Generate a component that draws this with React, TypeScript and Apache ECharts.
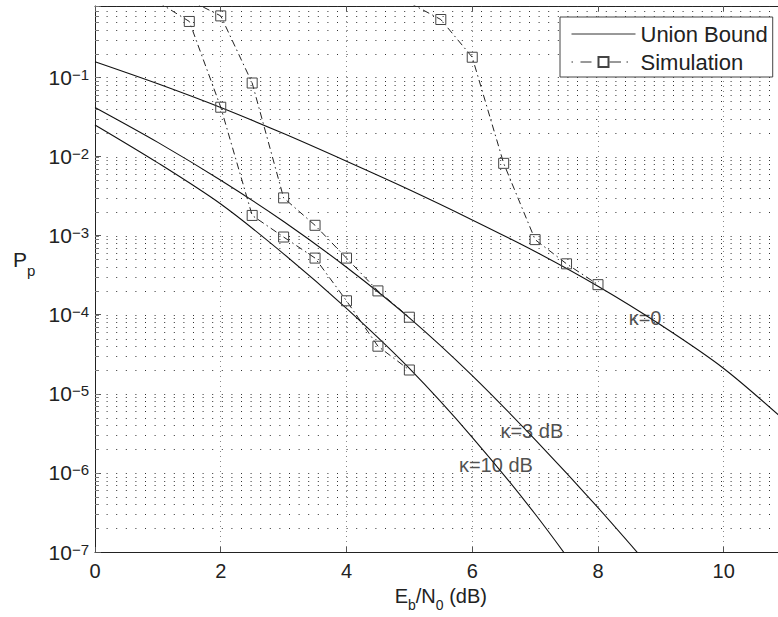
import React, { useEffect, useRef } from "react";
import * as echarts from "echarts";

const FONT = '"Liberation Sans", Arial, Helvetica, sans-serif';
const TEXT = "#222";

// x axis (Eb/N0, dB)
const xTicks = [0, 2, 4, 6, 8, 10];
const xMin = 0;
const xMax = 11;
// y axis (log10 of Pp)
const yDecades = [-7, -6, -5, -4, -3, -2, -1];
const yMinorMultipliers = [1, 2, 3, 4, 5, 6, 7, 8, 9];
const yTopValue = 0.8;

// Union bound curves
const ubK0Ebn0 = [0, 1, 2, 3, 4, 5, 6, 7, 8, 9, 10, 11];
const ubK0 = [0.158, 0.0832, 0.0417, 0.0195, 0.00871, 0.0038, 0.00158, 6.3e-4, 2.29e-4, 7.4e-5, 2.09e-5, 4.37e-6];
const ubK3Ebn0 = [0, 1, 2, 3, 4, 5, 6, 7, 8, 9];
const ubK3 = [0.0417, 0.0151, 0.00501, 0.00151, 3.98e-4, 9.12e-5, 1.7e-5, 2.63e-6, 3.63e-7, 4.47e-8];
const ubK10Ebn0 = [0, 1, 2, 3, 4, 5, 6, 7, 8];
const ubK10 = [0.0251, 0.00832, 0.00251, 5.89e-4, 1.2e-4, 2.09e-5, 2.82e-6, 3.02e-7, 2.51e-8];

// Simulation points
const simK10Ebn0 = [1, 1.5, 2, 2.5, 3, 3.5, 4, 4.5, 5];
const simK10 = [0.9, 0.51, 0.042, 1.8e-3, 9.6e-4, 5.2e-4, 1.5e-4, 4.0e-5, 2.0e-5];
const simK3Ebn0 = [1.5, 2, 2.5, 3, 3.5, 4, 4.5, 5];
const simK3 = [0.95, 0.6, 0.085, 3.0e-3, 1.35e-3, 5.2e-4, 2.0e-4, 9.3e-5];
const simK0Ebn0 = [5, 5.5, 6, 6.5, 7, 7.5, 8];
const simK0 = [0.88, 0.54, 0.18, 8.2e-3, 8.9e-4, 4.4e-4, 2.4e-4];

// curve annotations
const kappaTexts = ["κ=0", "κ=3 dB", "κ=10 dB"];
const kappaAnchorEbn0 = [8.48, 6.44, 5.78];
const kappaAnchorP = [9.0e-5, 3.4e-6, 1.26e-6];

const legendNames = ["Union Bound", "Simulation"];

const toPts = (xs: number[], ps: number[]) => xs.map((x, i) => [x, Math.log10(ps[i])]);

export default function App() {
  const ref = useRef<HTMLDivElement>(null);
  useEffect(() => {
    if (!ref.current) return;
    const chart = echarts.init(ref.current, null, { renderer: "svg" });
    const yMin = Math.min(...yDecades);
    const yMax = Math.log10(yTopValue);

    const gridValues: number[][] = [];
    yDecades.forEach((k) => {
      yMinorMultipliers.forEach((m) => {
        const v = k + Math.log10(m);
        if (v <= yMax + 1e-9 && v > yMin + 1e-9) gridValues.push([xMin, v, m === 1 ? 1 : 0]);
      });
    });

    const ubStyle = { color: "#111", width: 1.1 };
    const simLine = { color: "#222", width: 1, type: [7, 3.5, 1.5, 3.5] as any };
    const simItem = { color: "transparent", borderColor: "#444", borderWidth: 1 };

    const ubSeries = (data: number[][]) => ({
      type: "line",
      name: legendNames[0],
      data,
      symbol: "none",
      smooth: 0.3,
      lineStyle: ubStyle,
      itemStyle: { color: "#111" },
      silent: true,
      z: 3,
    });
    const simSeries = (data: number[][]) => ({
      type: "line",
      name: legendNames[1],
      data,
      symbol: "rect",
      symbolSize: 10,
      lineStyle: simLine,
      itemStyle: simItem,
      silent: true,
      z: 4,
    });

    chart.setOption({
      animation: false,
      backgroundColor: "#fff",
      textStyle: { fontFamily: FONT },
      grid: { left: 95, top: 6, right: -8.6, bottom: 65, outerBoundsMode: "none", containLabel: false },
      legend: {
        data: [
          { name: legendNames[0], itemStyle: { color: "transparent", borderWidth: 0, opacity: 0 }, lineStyle: { width: 1, color: "#333" } },
          { name: legendNames[1], lineStyle: { width: 1, color: "#333", type: [1.5, 7.5, 11, 18, 11.5, 5.5, 1.5, 20] } },
        ],
        orient: "vertical",
        left: 560,
        top: 17,
        padding: [6, 5, 4, 11],
        itemGap: 6,
        itemWidth: 64,
        itemHeight: 12.5,
        backgroundColor: "#fff",
        borderColor: "#444",
        borderWidth: 1,
        borderRadius: 0,
        selectedMode: false,
        textStyle: { fontSize: 22, color: TEXT, fontFamily: FONT, lineHeight: 22 },
      },
      xAxis: [
        {
          type: "value",
          min: xMin,
          max: xMax,
          interval: 2,
          position: "bottom",
          axisLine: { show: true, onZero: false, lineStyle: { color: "#222", width: 1 } },
          axisTick: { show: true, inside: true, length: 5, lineStyle: { color: "#555" } },
          axisLabel: {
            fontSize: 20,
            color: TEXT,
            fontFamily: FONT,
            margin: 9,
            formatter: (v: number) => (xTicks.includes(v) ? String(v) : ""),
          },
          splitLine: { show: true, lineStyle: { color: "#888", type: [1, 4], width: 1 } },
          name: "{n|E}{s|b}{n|/N}{s|0}{n| (dB)}",
          nameLocation: "middle",
          nameGap: 31,
          nameTextStyle: {
            rich: {
              n: { fontSize: 20, color: TEXT, fontFamily: FONT, verticalAlign: "top", lineHeight: 20 },
              s: { fontSize: 14, color: TEXT, fontFamily: FONT, verticalAlign: "top", lineHeight: 14, padding: [12, 0, 0, 0] },
            },
          },
        },
        {
          type: "value",
          min: xMin,
          max: xMax,
          interval: 2,
          position: "top",
          axisLine: { show: true, onZero: false, lineStyle: { color: "#222", width: 1 } },
          axisTick: { show: true, inside: true, length: 5, lineStyle: { color: "#555" } },
          axisLabel: { show: false },
          splitLine: { show: false },
        },
      ],
      yAxis: {
        type: "value",
        min: yMin,
        max: yMax,
        interval: 1,
        axisLine: { show: true, onZero: false, lineStyle: { color: "#222", width: 1 } },
        axisTick: { show: true, inside: true, length: 6, lineStyle: { color: "#555" } },
        splitLine: { show: false },
        axisLabel: {
          margin: 6,
          formatter: (v: number) => {
            const k = Math.round(v);
            if (Math.abs(v - k) > 1e-6) return "";
            return `{b|10}{sup|−${Math.abs(k)}}`;
          },
          rich: {
            b: { fontSize: 21, color: TEXT, fontFamily: FONT, lineHeight: 21 },
            sup: { fontSize: 15, color: TEXT, fontFamily: FONT, lineHeight: 15, padding: [0, 0, 18, 0], verticalAlign: "top" },
          },
        },
      },
      graphic: [
        {
          type: "text",
          left: 13,
          top: 249,
          style: {
            text: "{p|P}{s|p}",
            rich: {
              p: { fontSize: 21, fill: TEXT, fontFamily: FONT, lineHeight: 21, verticalAlign: "top" },
              s: { fontSize: 15, fill: TEXT, fontFamily: FONT, lineHeight: 15, verticalAlign: "top", padding: [14, 0, 0, 0] },
            },
          },
        },
      ],
      series: [
        {
          type: "custom",
          name: "grid",
          silent: true,
          z: 1,
          data: gridValues,
          renderItem: (params: any, api: any) => {
            const v = api.value(1);
            const p0 = api.coord([xMin, v]);
            const p1 = api.coord([xMax, v]);
            const y = Math.round(p0[1]) + 0.5;
            return {
              type: "group",
              children: [
                {
                  type: "line",
                  shape: { x1: p0[0] + 2, y1: y, x2: p1[0], y2: y },
                  style: { stroke: "#333", lineWidth: 1, lineDash: [1, 8.6] },
                },
                {
                  type: "line",
                  shape: { x1: p0[0], y1: y, x2: p0[0] + 4, y2: y },
                  style: { stroke: "#777", lineWidth: 1 },
                },
              ],
            };
          },
        },
        ubSeries(toPts(ubK0Ebn0, ubK0)),
        ubSeries(toPts(ubK3Ebn0, ubK3)),
        ubSeries(toPts(ubK10Ebn0, ubK10)),
        simSeries(toPts(simK10Ebn0, simK10)),
        simSeries(toPts(simK3Ebn0, simK3)),
        simSeries(toPts(simK0Ebn0, simK0)),
        {
          type: "scatter",
          name: "labels",
          silent: true,
          z: 5,
          symbolSize: 1,
          itemStyle: { color: "transparent" },
          data: kappaTexts.map((t, i) => ({ value: [kappaAnchorEbn0[i], Math.log10(kappaAnchorP[i])], name: t })),
          label: {
            show: true,
            position: "right",
            distance: 0,
            formatter: (p: any) => p.name,
            fontSize: 20,
            color: TEXT,
            fontFamily: FONT,
          },
        },
      ],
    });
    return () => chart.dispose();
  }, []);
  return <div ref={ref} style={{ position: "absolute", left: 0, top: 0, width: 778, height: 617 }} />;
}
